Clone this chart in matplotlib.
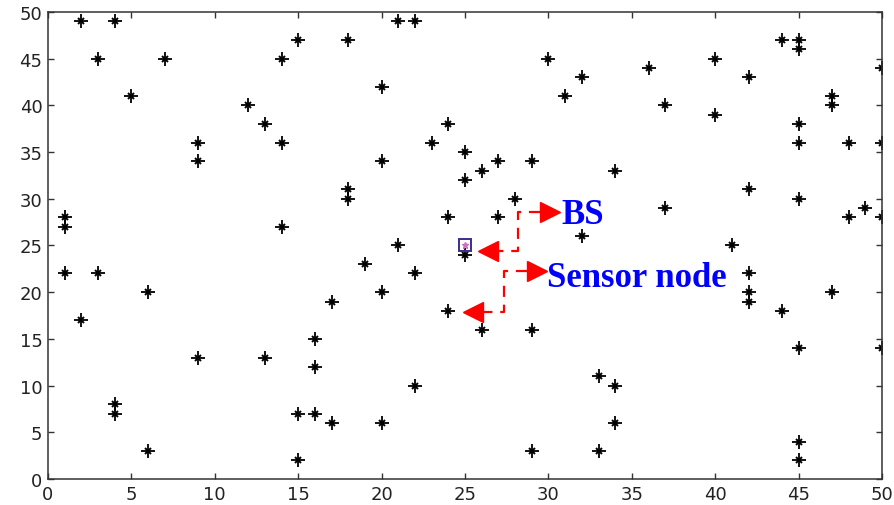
"""
Random deployment of 100 sensor nodes in a 50 x 50 field with the base station
placed near the centre.
"""

import matplotlib.pyplot as plt

# sensor node positions (m)
node_x = [2, 4, 3, 7, 5, 9, 9, 12, 13, 14, 14, 15, 1, 1, 14,
          18, 21, 22, 20, 24, 23, 25, 20, 26, 27, 29, 25, 18, 18, 28, 24, 27,
          30, 32, 31, 32, 21,
          44, 45, 45, 40, 36, 42, 50, 47, 47, 37, 40, 45, 45, 48, 50, 34, 42,
          45, 37, 49, 48, 50, 41,
          1, 3, 6, 2, 9, 13, 4, 4, 6, 15, 15,
          19, 22, 20, 17, 24, 26, 29, 16, 16, 22, 16, 17, 20, 29, 25,
          42, 42, 42, 44, 47, 45, 50, 33, 34, 34, 33, 45, 45]
node_y = [49, 49, 45, 45, 41, 36, 34, 40, 38, 36, 45, 47, 28, 27, 27,
          47, 49, 49, 42, 38, 36, 35, 34, 33, 34, 34, 32, 31, 30, 30, 28, 28,
          45, 43, 41, 26, 25,
          47, 47, 46, 45, 44, 43, 44, 41, 40, 40, 39, 38, 36, 36, 36, 33, 31,
          30, 29, 29, 28, 28, 25,
          22, 22, 20, 17, 13, 13, 8, 7, 3, 7, 2,
          23, 22, 20, 19, 18, 16, 16, 15, 12, 10, 7, 6, 6, 3, 24,
          22, 20, 19, 18, 20, 14, 14, 11, 10, 6, 3, 4, 2]

# base station
bs_x = [25]
bs_y = [25]

# dashed call-out paths
bs_path_x = [29.5, 28.2, 28.2, 27.0]
bs_path_y = [28.6, 28.6, 24.45, 24.45]
sn_path_x = [28.7, 27.35, 27.35, 26.1]
sn_path_y = [22.3, 22.3, 17.9, 17.9]

fig = plt.figure(figsize=(8.95, 5.06), dpi=100)
ax = fig.add_axes([0.0536, 0.0514, 0.932, 0.923])

# asterisk style node marker: a plus with a small x over it
ax.plot(node_x, node_y, linestyle="none", marker="+", markersize=9.5,
        color="black", markeredgewidth=1.3)
ax.plot(node_x, node_y, linestyle="none", marker="x", markersize=4.5,
        color="black", markeredgewidth=1.4)

ax.plot(bs_x, bs_y, linestyle="none", marker="s", markersize=8,
        markerfacecolor="none", markeredgecolor="#3b2e8f", markeredgewidth=1.4)
ax.plot(bs_x, bs_y, linestyle="none", marker="*", markersize=5,
        color="#d070c0")

red = "#ff0000"
for px, py in [(bs_path_x, bs_path_y), (sn_path_x, sn_path_y)]:
    ax.plot(px, py, color=red, linestyle=(0, (5, 3.5)), linewidth=1.6)

# arrow heads
ax.plot([(29.5 + 30.7) / 2], [28.6], marker=">", markersize=14, color=red,
        linestyle="none")
ax.plot([(27.0 + 25.7) / 2], [24.45], marker="<", markersize=14, color=red,
        linestyle="none")
ax.plot([(28.7 + 29.9) / 2], [22.3], marker=">", markersize=14, color=red,
        linestyle="none")
ax.plot([(26.1 + 24.9) / 2], [17.9], marker="<", markersize=14, color=red,
        linestyle="none")

ax.text(30.8, 28.3, "BS", color="#0000ff", fontsize=25, fontweight="bold",
        family="Liberation Serif", ha="left", va="center")
ax.text(29.9, 21.6, "Sensor node", color="#0000ff", fontsize=25,
        fontweight="bold", family="Liberation Serif", ha="left", va="center")

ax.set_xlim(0, 50)
ax.set_ylim(0, 50)
ax.set_xticks(range(0, 51, 5))
ax.set_yticks(range(0, 51, 5))
ax.tick_params(direction="in", top=True, right=True, length=4, width=1,
               color="#333333", labelsize=13, labelcolor="#222222", pad=4)
for spine in ax.spines.values():
    spine.set_color("#333333")
    spine.set_linewidth(1.1)

fig.savefig("out.png", dpi=100)
